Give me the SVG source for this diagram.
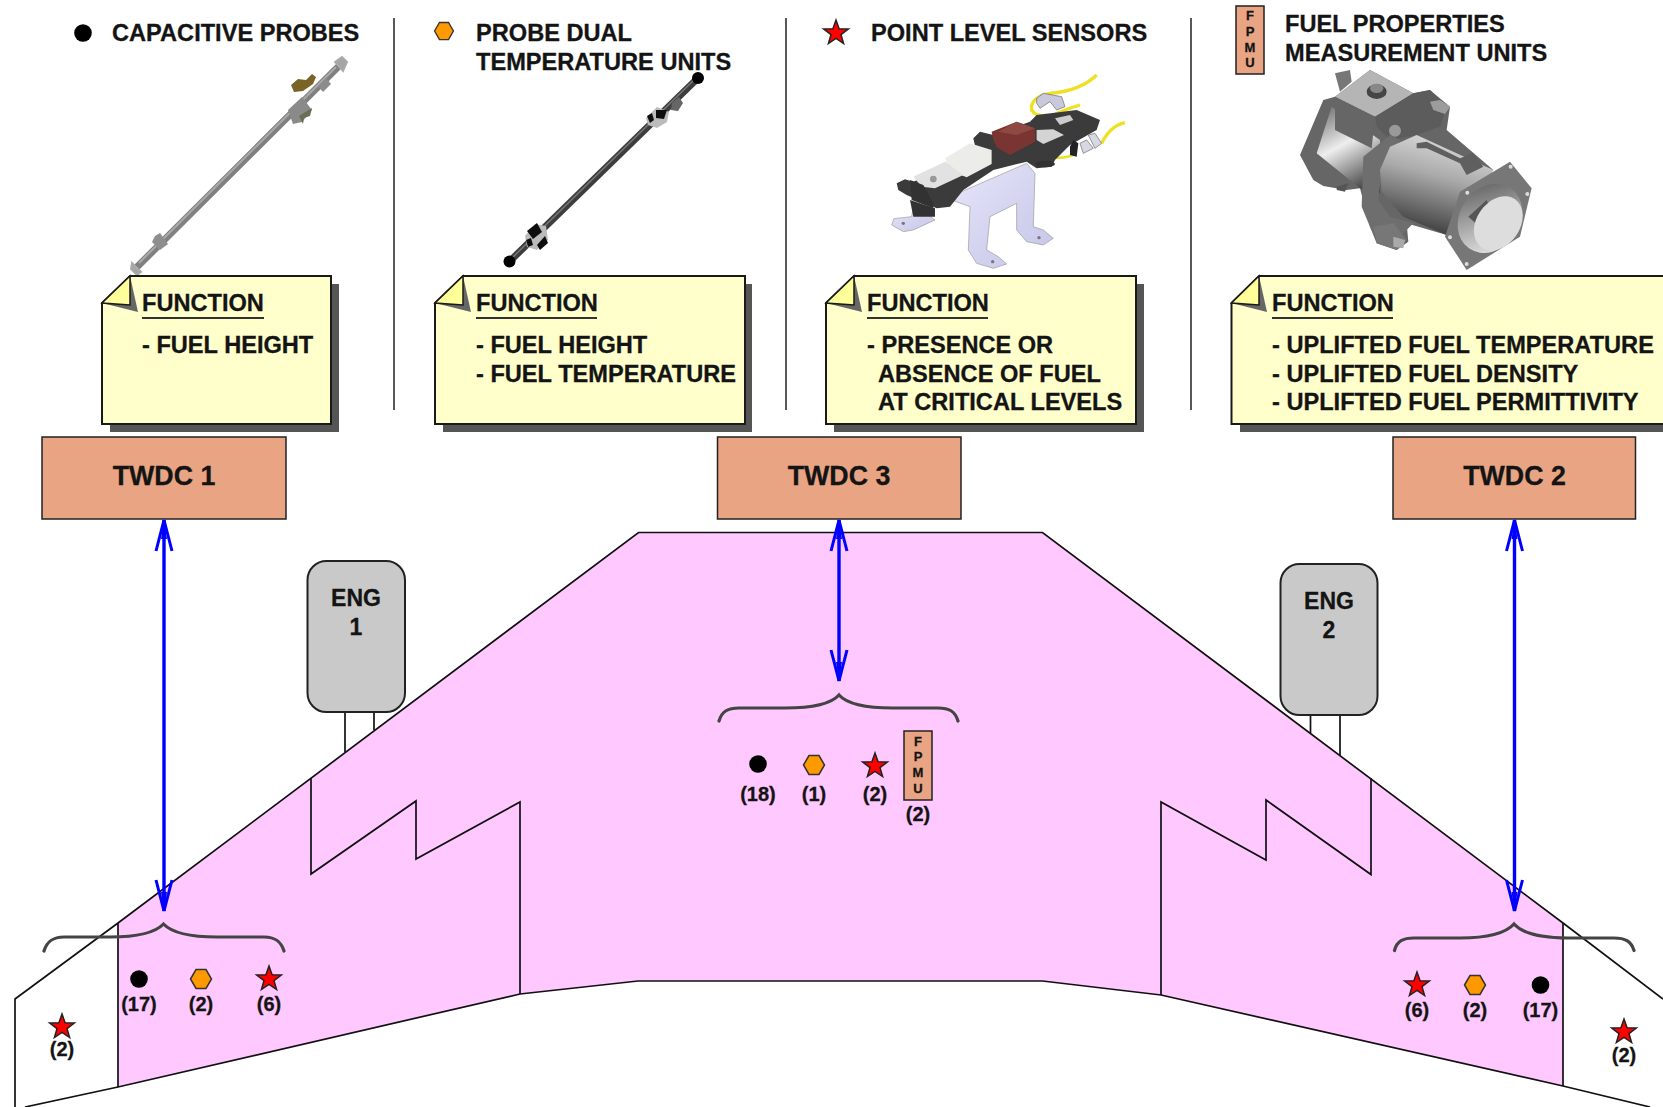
<svg xmlns="http://www.w3.org/2000/svg" width="1663" height="1107" viewBox="0 0 1663 1107">
<style>
text{font-family:"Liberation Sans",Arial,sans-serif;font-weight:700;fill:#141414;stroke:#141414;stroke-width:.3px}
.h{font-size:23.6px}
.f{font-size:23.6px}
.n{font-size:20px;text-anchor:middle}
.t{font-size:26.8px;text-anchor:middle}
.e{font-size:23px;text-anchor:middle}
.l{font-size:13px;text-anchor:middle}
.note{fill:#FFFFCC;stroke:#1a1a1a;stroke-width:2}
.shadow{fill:#555}
.fold{fill:#FFFF99;stroke:#1a1a1a;stroke-width:1.5}
.foldsh{fill:#666}
.ul{stroke:#333;stroke-width:2}
.sep{stroke:#222;stroke-width:1.5}
.box{fill:#E9A583;stroke:#222;stroke-width:1.5}
.eng{fill:#C9C9C9;stroke:#222;stroke-width:2}
.w{fill:none;stroke:#111;stroke-width:1.7;stroke-linejoin:miter}
.br{fill:none;stroke:#444;stroke-width:3.2;stroke-linecap:round}
.a{stroke:#0000FF;stroke-width:3.4;marker-start:url(#ah);marker-end:url(#ah)}
.pic{filter:url(#soft)}
</style>
<defs>
<filter id="soft" x="-5%" y="-5%" width="110%" height="110%"><feGaussianBlur stdDeviation="0.7"/></filter>
<marker id="ah" markerUnits="userSpaceOnUse" markerWidth="36" markerHeight="22" viewBox="0 0 36 22" refX="33" refY="11" orient="auto-start-reverse"><path d="M2 3 L33 11 L2 19" fill="none" stroke="#0000FF" stroke-width="3"/><path d="M14 8 L33 11 L14 14Z" fill="#0000FF"/></marker>
<circle id="dot" r="8.8" fill="#000"/>
<polygon id="hex" points="-10.5,0 -5,-9.5 5,-9.5 10.5,0 5,9.5 -5,9.5" fill="#FF9900" stroke="#333" stroke-width="1.5"/>
<polygon id="star" points="0,-13 3.1,-4.3 12.4,-4 5,1.6 7.6,10.5 0,5.3 -7.6,10.5 -5,1.6 -12.4,-4 -3.1,-4.3" fill="#FF0000" stroke="#222" stroke-width="1.5"/>
<linearGradient id="cyl" x1="0.2" y1="0" x2="0.6" y2="1"><stop offset="0" stop-color="#777"/><stop offset="0.45" stop-color="#eee"/><stop offset="1" stop-color="#444"/></linearGradient>
<linearGradient id="cyl2" x1="0.6" y1="0" x2="0.3" y2="1"><stop offset="0" stop-color="#ddd"/><stop offset="0.4" stop-color="#aaa"/><stop offset="1" stop-color="#333"/></linearGradient>
<linearGradient id="bore" x1="0" y1="0" x2="1" y2="1"><stop offset="0" stop-color="#555"/><stop offset="1" stop-color="#f4f4f4"/></linearGradient>
<linearGradient id="lav" x1="0" y1="0" x2="1" y2="1"><stop offset="0" stop-color="#e6e6fa"/><stop offset="1" stop-color="#c4c4e8"/></linearGradient>
</defs>

<g id="wing">
<polygon points="118,923 638.5,532.5 1042.5,532.5 1563,923 1563,1086 1161,995 1042.5,981 638,981 520,994 118,1087" fill="#FFC9FF"/>
<path class="w" d="M25,1107 L118,1087 L520,994 L638,981 L1042.5,981 L1161,995 L1563,1086 L1650,1107"/>
<path class="w" d="M15,1107 L15,999 L118,923 L638.5,532.5 L1042.5,532.5 L1563,923 L1663,999"/>
<path class="w" d="M118,923 L118,1087"/>
<path class="w" d="M1563,923 L1563,1086"/>
<path class="w" d="M311,778 L311,874 L416,801 L416,859 L520,802 L520,994"/>
<path class="w" d="M1371,778 L1371,874.5 L1266,800 L1266,860 L1161,802 L1161,995"/>
</g>

<g id="engine-1">
<path class="w" d="M345,712 V752 M374,712 V730"/>
<rect class="eng" x="307.500" y="561" width="97.500" height="151" rx="19"/>
<text class="e" x="356" y="606">ENG</text><text class="e" x="356" y="635">1</text>
</g>
<g id="engine-2">
<path class="w" d="M1310.5,715 V733.5 M1340,715 V755"/>
<rect class="eng" x="1280.500" y="564" width="97" height="151" rx="19"/>
<text class="e" x="1329" y="609">ENG</text><text class="e" x="1329" y="638">2</text>
</g>

<g id="separators">
<path class="sep" d="M394,18 V410 M786,18 V410 M1191,18 V410"/>
</g>

<g id="legend-capacitive-probes">
<use href="#dot" x="83" y="33"/>
<text class="h" x="112" y="41">CAPACITIVE PROBES</text>
<g id="probe-picture" class="pic">
<path d="M137,267 L340,65" stroke="#808080" stroke-width="7" stroke-linecap="round"/>
<path d="M139,263 L336,67" stroke="#aaa" stroke-width="2"/>
<path d="M132,263 L141,272 L137,275 L131,269Z M335,62 L342,57 L347,62 L343,71Z" fill="#a5a5a5" stroke="#aaa" stroke-width="2"/>
<path d="M155,236 L160,233 L168,244 L160,250 L152,242Z" fill="#8e8e8e"/>
<path d="M288,110 L302,97 L312,110 L302,122 L293,124Z" fill="#8a8a8a"/>
<path d="M312,108 L310,116 L304,118 L303,124 L299,116Z" fill="#6d6d55"/>
<path d="M291,85 L298,79 L306,80 L312,74 L316,77 L313,84 L303,91 L294,92Z" fill="#7a6428"/>
<path d="M318,86 L326,78 L331,84 L323,92Z" fill="#8c8c8c"/>
</g>
</g>

<g id="legend-probe-dual">
<use href="#hex" transform="translate(444,31) scale(.9)"/>
<text class="h" x="476" y="41">PROBE DUAL</text>
<text class="h" x="476" y="70">TEMPERATURE UNITS</text>
<g id="dual-picture" class="pic">
<path d="M509,262 L698,78" stroke="#3e3e3e" stroke-width="7"/>
<path d="M512,258 L696,78" stroke="#777" stroke-width="1.5"/>
<circle cx="509.500" cy="261.500" r="6" fill="#000"/>
<circle cx="698" cy="78" r="6" fill="#000"/>
<path d="M525,236 L535,224 L546,226 L548,240 L537,250 L527,247Z" fill="#bbb"/>
<path d="M527,231 L537,223 L542,232 L533,239Z M537,245 L545,236 L548,243 L540,250Z M526,240 L531,238 L533,245 L528,247Z" fill="#111"/>
<path d="M646,118 L657,107 L669,112 L667,122 L657,128 L648,125Z" fill="#bbb"/>
<path d="M656,110 L667,110 L664,119 L656,118Z M647,116 L652,113 L654,120 L650,123Z" fill="#111"/>
<path d="M672,103 L679,97 L683,103 L678,111 L671,110Z" fill="#666"/>
</g>
</g>

<g id="legend-point-level">
<use href="#star" x="836" y="33"/>
<text class="h" x="871" y="41">POINT LEVEL SENSORS</text>
<g id="sensor-picture" class="pic" transform="translate(870,60) scale(.3333)">
<path d="M130,440 L125,470 L72,476 L65,495 L100,515 L130,510 L195,480 L145,445Z" fill="url(#lav)" stroke="#999" stroke-width="2"/>
<path d="M240,410 L470,310 L495,340 L490,500 L520,510 L550,535 L520,555 L470,545 L440,510 L440,430 L360,470 L350,570 L385,590 L410,612 L370,625 L320,610 L295,570 L300,440 L245,420Z" fill="url(#lav)" stroke="#999" stroke-width="2"/>
<circle cx="100" cy="490" r="5" fill="#777"/><circle cx="507" cy="533" r="5" fill="#777"/><circle cx="368" cy="605" r="5" fill="#777"/>
<path d="M120,420 L195,445 L195,470 L130,470Z" fill="#333"/>
<path d="M680,45 C650,75 600,95 540,100 C500,105 480,130 485,150 C495,165 510,170 530,165" fill="none" stroke="#EEE022" stroke-width="10"/>
<path d="M630,135 C580,150 540,165 505,200" fill="none" stroke="#EEE022" stroke-width="10"/>
<path d="M765,188 C730,195 710,220 695,250" fill="none" stroke="#EEE022" stroke-width="10"/>
<path d="M620,280 C590,295 570,295 550,292" fill="none" stroke="#EEE022" stroke-width="8"/>
<path d="M80,370 L105,358 L130,365 L320,280 L310,235 L330,215 L370,225 L480,185 L500,165 L620,150 L690,180 L680,210 L600,255 L555,300 L545,320 L500,325 L470,305 L370,330 L280,390 L240,440 L200,445 L110,405 L85,390Z" fill="#3a3a3a"/>
<path d="M500,115 L520,100 L575,110 L585,140 L560,150 L540,125 L510,145 L500,130Z" fill="#c9c9de" stroke="#666" stroke-width="2"/>
<path d="M555,175 L600,165 L610,180 L570,195Z" fill="#ccc"/>
<path d="M600,260 L610,240 L625,250 L620,290 L600,285Z" fill="#222"/>
<path d="M630,250 L650,240 L670,265 L640,280Z M655,225 L675,220 L695,250 L675,265Z" fill="#d8d8e4" stroke="#666" stroke-width="2"/>
<path d="M500,210 L550,208 L582,225 L520,252 L500,240Z" fill="#d4d4d4"/>
<path d="M365,215 L440,185 L495,205 L495,245 L420,285 L380,262 L370,240Z" fill="#7a3530"/>
<path d="M440,185 L495,205 L440,225 L385,215Z" fill="#8f4a42"/>
<path d="M225,295 L300,250 L365,270 L365,312 L290,352 L240,332Z" fill="#ecece8"/>
<path d="M130,350 L225,305 L280,345 L195,385 L155,380Z" fill="#e2e2e2"/>
<circle cx="190" cy="357" r="10" fill="#999"/>
<path d="M120,360 L160,375 L190,430 L190,445 L125,420Z" fill="#333"/>
<ellipse cx="525" cy="312" rx="30" ry="10" fill="#333"/>
</g>
</g>

<g id="legend-fpmu">
<rect class="box" x="1236" y="6" width="28" height="68"/>
<text class="l" x="1250" y="20">F</text><text class="l" x="1250" y="36">P</text><text class="l" x="1250" y="52">M</text><text class="l" x="1250" y="67">U</text>
<text class="h" x="1285" y="32">FUEL PROPERTIES</text>
<text class="h" x="1285" y="61">MEASUREMENT UNITS</text>
<g id="fpmu-picture" class="pic" transform="translate(1280,60) scale(.3333)">
<path d="M165,40 L210,30 L215,65 L180,95Z" fill="#777"/>
<path d="M60,285 L130,120 L165,110 L270,30 L400,100 L450,90 L510,140 L500,210 L640,330 L500,525 L380,490 L385,545 L350,570 L290,550 L270,500 L240,385 L200,390 L130,378 L100,360Z" fill="#666"/>
<path d="M110,280 L155,140 L300,240 L300,400 L240,385Z" fill="url(#cyl)"/>
<path d="M170,380 L205,370 L195,395 L170,390Z" fill="#555"/>
<path d="M165,110 L270,30 L400,100 L285,170Z" fill="#b5b5b5"/>
<path d="M165,110 L285,170 L275,265 L165,210Z" fill="#666"/>
<ellipse cx="290" cy="95" rx="30" ry="22" fill="#444"/><ellipse cx="290" cy="85" rx="20" ry="14" fill="#888"/>
<path d="M285,170 L400,100 L450,90 L500,140 L480,200 L410,225 L330,240 L290,200Z" fill="#5c5c5c"/>
<path d="M450,125 L480,120 L510,140 L495,162 L460,150Z" fill="#9c9c9c"/>
<circle cx="345" cy="212" r="18" fill="#999"/>
<path d="M250,290 L330,225 L360,240 L305,330 L295,420 L330,470 L400,490 L360,530 L290,540 L270,500 L245,440Z" fill="#6e6e6e"/>
<path d="M280,500 L340,490 L380,540 L350,570 L290,550Z" fill="#777"/>
<path d="M340,530 L375,540 L370,565 L340,560Z" fill="#aaa"/>
<path d="M300,330 L330,260 L410,225 L640,330 L500,525 L370,470 L305,395Z" fill="url(#cyl2)"/>
<path d="M410,250 L440,245 L540,295 L580,280 L610,320 L560,345 L540,310 L440,265 L410,265Z" fill="#5e5e5e"/>
<path d="M690,305 L755,385 L720,530 L560,630 L495,530 L540,395Z" fill="#777"/>
<ellipse cx="630" cy="475" rx="90" ry="110" transform="rotate(35 630 475)" fill="url(#bore)"/>
<path d="M565,470 L620,420 L640,470 L610,510Z" fill="#555"/>
<ellipse cx="655" cy="490" rx="65" ry="88" transform="rotate(35 655 490)" fill="#ddd"/>
<circle cx="692" cy="320" r="6" fill="#ddd"/><circle cx="742" cy="402" r="6" fill="#ddd"/><circle cx="562" cy="398" r="6" fill="#ddd"/><circle cx="510" cy="532" r="6" fill="#ddd"/><circle cx="560" cy="612" r="6" fill="#ddd"/>
</g>
</g>

<g id="note-1">
<polygon class="shadow" points="130,284 339,284 339,432 110,432 110,310"/>
<polygon class="note" points="130,276 331,276 331,424 102,424 102,303"/>
<polygon class="foldsh" points="130,276 138,312 102,303"/>
<polygon class="fold" points="130,276 130,305 102,303"/>
<text class="f" x="142" y="311">FUNCTION</text><line class="ul" x1="142" y1="318" x2="264" y2="318"/>
<text class="f" x="142" y="353">- FUEL HEIGHT</text>
</g>
<g id="note-2">
<polygon class="shadow" points="463,284 752,284 752,432 443,432 443,310"/>
<polygon class="note" points="463,276 745,276 745,424 435,424 435,303"/>
<polygon class="foldsh" points="463,276 471,312 435,303"/>
<polygon class="fold" points="463,276 463,305 435,303"/>
<text class="f" x="476" y="311">FUNCTION</text><line class="ul" x1="476" y1="318" x2="597" y2="318"/>
<text class="f" x="476" y="353">- FUEL HEIGHT</text>
<text class="f" x="476" y="382">- FUEL TEMPERATURE</text>
</g>
<g id="note-3">
<polygon class="shadow" points="854,284 1144,284 1144,432 834,432 834,310"/>
<polygon class="note" points="854,276 1136,276 1136,424 826,424 826,303"/>
<polygon class="foldsh" points="854,276 862,312 826,303"/>
<polygon class="fold" points="854,276 854,305 826,303"/>
<text class="f" x="867" y="311">FUNCTION</text><line class="ul" x1="867" y1="318" x2="988" y2="318"/>
<text class="f" x="867" y="353">- PRESENCE OR</text>
<text class="f" x="878" y="382">ABSENCE OF FUEL</text>
<text class="f" x="878" y="410">AT CRITICAL LEVELS</text>
</g>
<g id="note-4">
<polygon class="shadow" points="1259,284 1663,284 1663,432 1240,432 1240,310"/>
<polygon class="note" points="1259,276 1664,276 1664,424 1231.500,424 1231.500,303"/>
<polygon class="foldsh" points="1259,276 1267,312 1231.500,303"/>
<polygon class="fold" points="1259,276 1259,305 1231.500,303"/>
<text class="f" x="1272" y="311">FUNCTION</text><line class="ul" x1="1272" y1="318" x2="1393" y2="318"/>
<text class="f" x="1272" y="353">- UPLIFTED FUEL TEMPERATURE</text>
<text class="f" x="1272" y="382">- UPLIFTED FUEL DENSITY</text>
<text class="f" x="1272" y="410">- UPLIFTED FUEL PERMITTIVITY</text>
</g>

<g id="twdc-1"><rect class="box" x="42" y="437" width="244" height="82"/><text class="t" x="164" y="485">TWDC 1</text></g>
<g id="twdc-3"><rect class="box" x="717.500" y="437" width="243.500" height="82"/><text class="t" x="839" y="485">TWDC 3</text></g>
<g id="twdc-2"><rect class="box" x="1393" y="437" width="242.500" height="82"/><text class="t" x="1514.500" y="485">TWDC 2</text></g>

<g id="connectors">
<line class="a" x1="164" y1="520" x2="164" y2="911"/>
<line class="a" x1="839" y1="520" x2="839" y2="681"/>
<line class="a" x1="1514.500" y1="520" x2="1514.500" y2="911"/>
<path class="br" d="M44,951 C47,941 53,937 64,937 L110,937 C135,937 154,934 163.500,924 C173,934 192,937 217,937 L264,937 C275,937 281,941 284,951"/>
<path class="br" d="M719,721 C722,711 728,708 739,708 L785,708 C810,708 830,705 839,695 C848,705 868,708 893,708 L938,708 C949,708 955,711 958,721"/>
<path class="br" d="M1394.500,950.500 C1397,941 1403,938 1414,938 L1460,938 C1485,938 1505,934 1514,924 C1523,934 1543,938 1568,938 L1614,938 C1625,938 1631,941 1634,950.500"/>
</g>

<g id="group-left">
<use href="#dot" x="139" y="979"/><use href="#hex" x="201" y="979"/><use href="#star" x="269" y="979"/>
<text class="n" x="139" y="1011">(17)</text><text class="n" x="201" y="1011">(2)</text><text class="n" x="269" y="1011">(6)</text>
</g>
<g id="tip-left"><use href="#star" x="62" y="1027"/><text class="n" x="62" y="1056">(2)</text></g>
<g id="group-center">
<use href="#dot" x="758" y="764"/><use href="#hex" x="814" y="765"/><use href="#star" x="875" y="766"/>
<text class="n" x="758" y="801">(18)</text><text class="n" x="814" y="801">(1)</text><text class="n" x="875" y="801">(2)</text>
<rect class="box" x="904" y="731" width="28" height="69"/>
<text class="l" x="918" y="746">F</text><text class="l" x="918" y="761">P</text><text class="l" x="918" y="777">M</text><text class="l" x="918" y="793">U</text>
<text class="n" x="918" y="821">(2)</text>
</g>
<g id="group-right">
<use href="#star" x="1417" y="985"/><use href="#hex" x="1475" y="985"/><use href="#dot" x="1540.500" y="985"/>
<text class="n" x="1417" y="1017">(6)</text><text class="n" x="1475" y="1017">(2)</text><text class="n" x="1540.500" y="1017">(17)</text>
</g>
<g id="tip-right"><use href="#star" x="1624" y="1032"/><text class="n" x="1624" y="1062">(2)</text></g>
</svg>
